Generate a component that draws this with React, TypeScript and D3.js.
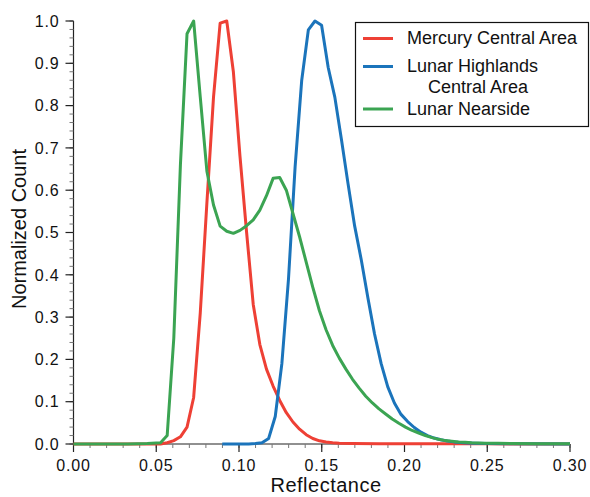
import React from "react";
import * as d3 from "d3";

// ---- data (reflectance, normalized count) ----
const mercuryCentral: [number, number][] = [
  [0.0, 0], [0.0446, 0], [0.0526, 0], [0.0566, 0.003], [0.0606, 0.008], [0.0646, 0.017],
  [0.0686, 0.04], [0.0726, 0.11], [0.0766, 0.31], [0.0806, 0.57], [0.0846, 0.82],
  [0.0886, 0.995], [0.0926, 1.0], [0.0966, 0.88], [0.1006, 0.68], [0.1046, 0.5],
  [0.1086, 0.33], [0.1126, 0.235], [0.1166, 0.177], [0.1206, 0.137], [0.1246, 0.103],
  [0.1286, 0.074], [0.1326, 0.052], [0.1366, 0.035], [0.1406, 0.022], [0.1446, 0.013],
  [0.1486, 0.0075], [0.1526, 0.0045], [0.1566, 0.003], [0.1606, 0.002], [0.1686, 0.0012],
  [0.1846, 0.0008], [0.2206, 0.0005], [0.25, 0.0003], [0.3, 0.0],
];

const lunarHighlands: [number, number][] = [
  [0.0899, 0], [0.1059, 0], [0.1099, 0.001], [0.1139, 0.003], [0.1179, 0.013],
  [0.1219, 0.065], [0.1259, 0.19], [0.1299, 0.39], [0.1339, 0.655], [0.1379, 0.86],
  [0.1419, 0.979], [0.1459, 1.0], [0.1499, 0.99], [0.1539, 0.89], [0.1579, 0.82],
  [0.1619, 0.72], [0.1659, 0.615], [0.1699, 0.515], [0.1739, 0.435], [0.1779, 0.345],
  [0.1819, 0.26], [0.1859, 0.19], [0.1899, 0.135], [0.1939, 0.097], [0.1979, 0.07],
  [0.2019, 0.053], [0.2059, 0.039], [0.2099, 0.028], [0.2139, 0.02], [0.2179, 0.014],
  [0.2219, 0.01], [0.2259, 0.007], [0.2299, 0.005], [0.2339, 0.0035], [0.2379, 0.0025],
  [0.2419, 0.0018], [0.2499, 0.001], [0.2659, 0.0005], [0.3, 0.0],
];

const lunarNearside: [number, number][] = [
  [0.0, 0], [0.0326, 0], [0.0446, 0.001], [0.0526, 0.003], [0.0566, 0.02], [0.0606, 0.25],
  [0.0646, 0.66], [0.0686, 0.97], [0.0726, 1.0], [0.0766, 0.82], [0.0806, 0.645],
  [0.0846, 0.565], [0.0886, 0.515], [0.0926, 0.503], [0.0966, 0.498], [0.1006, 0.505],
  [0.1046, 0.516], [0.1086, 0.53], [0.1126, 0.553], [0.1166, 0.587], [0.1206, 0.628],
  [0.1246, 0.63], [0.1286, 0.6], [0.1326, 0.545], [0.1366, 0.49], [0.1406, 0.43],
  [0.1446, 0.37], [0.1486, 0.315], [0.1526, 0.27], [0.1566, 0.233], [0.1606, 0.203],
  [0.1646, 0.177], [0.1686, 0.153], [0.1726, 0.132], [0.1766, 0.113], [0.1806, 0.097],
  [0.1846, 0.083], [0.1886, 0.071], [0.1926, 0.059], [0.1966, 0.049], [0.2006, 0.04],
  [0.2046, 0.032], [0.2086, 0.026], [0.2126, 0.02], [0.2166, 0.015], [0.2206, 0.011],
  [0.2246, 0.008], [0.2286, 0.0065], [0.2326, 0.005], [0.2366, 0.004], [0.2406, 0.003],
  [0.2446, 0.0025], [0.2486, 0.002], [0.2566, 0.0015], [0.2646, 0.001], [0.2806, 0.0008],
  [0.3, 0.0005],
];

const xTicks = [0, 0.05, 0.1, 0.15, 0.2, 0.25, 0.3];
const yTicks = [0, 0.1, 0.2, 0.3, 0.4, 0.5, 0.6, 0.7, 0.8, 0.9, 1.0];

const seriesNames = ["Mercury Central Area", "Lunar Highlands\nCentral Area", "Lunar Nearside"];
const seriesColors = ["#ee4035", "#1b74bb", "#3ba452"];

const FONT = "'Liberation Sans', Arial, Helvetica, sans-serif";

export default function App() {
  const W = 590, H = 497;
  const x = d3.scaleLinear().domain([0, 0.3]).range([73.5, 570]);
  const y = d3.scaleLinear().domain([0, 1]).range([444, 21]);
  const line = d3.line<[number, number]>().x(d => x(d[0])).y(d => y(d[1])).curve(d3.curveLinear);

  const xMinor = d3.range(0, 31).map(i => i / 100);
  const yMinor = d3.range(0, 51).map(i => i / 50);
  const axisColor = "#222";
  const series = [mercuryCentral, lunarHighlands, lunarNearside];

  return (
    <svg width={W} height={H} style={{ position: "absolute", left: 0, top: 0 }} fontFamily={FONT}>
      <rect width={W} height={H} fill="#fff" />
      {/* axes */}
      <line x1={x(0)} x2={x(0)} y1={y(0)} y2={y(1)} stroke={axisColor} strokeWidth={1.2} />
      <line x1={x(0)} x2={x(0.3)} y1={y(0)} y2={y(0)} stroke={axisColor} strokeWidth={1.2} />
      {yMinor.map((v, i) => (
        <line key={"ym" + i} x1={x(0) - 4} x2={x(0)} y1={y(v)} y2={y(v)} stroke="#777" strokeWidth={1} />
      ))}
      {xMinor.map((v, i) => (
        <line key={"xm" + i} x1={x(v)} x2={x(v)} y1={y(0)} y2={y(0) + 4} stroke="#777" strokeWidth={1} />
      ))}
      {yTicks.map((v, i) => (
        <g key={"yt" + i}>
          <line x1={x(0) - 8} x2={x(0)} y1={y(v)} y2={y(v)} stroke={axisColor} strokeWidth={1.2} />
          <text x={x(0) - 14} y={y(v)} dy="0.36em" textAnchor="end" fontSize={16} letterSpacing={0.8} fill="#111">
            {v.toFixed(1)}
          </text>
        </g>
      ))}
      {xTicks.map((v, i) => (
        <g key={"xt" + i}>
          <line x1={x(v)} x2={x(v)} y1={y(0)} y2={y(0) + 8} stroke={axisColor} strokeWidth={1.2} />
          <text x={x(v)} y={471} textAnchor="middle" fontSize={16} letterSpacing={0.8} fill="#111">
            {v.toFixed(2)}
          </text>
        </g>
      ))}
      <text x={326} y={492} textAnchor="middle" fontSize={20} letterSpacing={0.5} fill="#111">Reflectance</text>
      <text transform={`translate(26,229) rotate(-90)`} textAnchor="middle" fontSize={20} fill="#111">Normalized Count</text>

      {/* series */}
      {series.map((s, i) => (
        <path key={"s" + i} d={line(s) || ""} fill="none" stroke={seriesColors[i]} strokeWidth={3} strokeLinejoin="round" />
      ))}

      {/* legend */}
      <rect x={355.5} y={22.5} width={233} height={104} fill="#fff" stroke="#111" strokeWidth={1.2} />
      <line x1={363} x2={393} y1={38.5} y2={38.5} stroke={seriesColors[0]} strokeWidth={3} />
      <text x={407} y={44} fontSize={18} fill="#111">{seriesNames[0]}</text>
      <line x1={363} x2={393} y1={66.5} y2={66.5} stroke={seriesColors[1]} strokeWidth={3} />
      <text x={407} y={72} fontSize={18} fill="#111">{seriesNames[1].split("\n")[0]}</text>
      <text x={428} y={93} fontSize={18} fill="#111">{seriesNames[1].split("\n")[1]}</text>
      <line x1={363} x2={393} y1={109} y2={109} stroke={seriesColors[2]} strokeWidth={3} />
      <text x={407} y={115} fontSize={18} fill="#111">{seriesNames[2]}</text>
    </svg>
  );
}
